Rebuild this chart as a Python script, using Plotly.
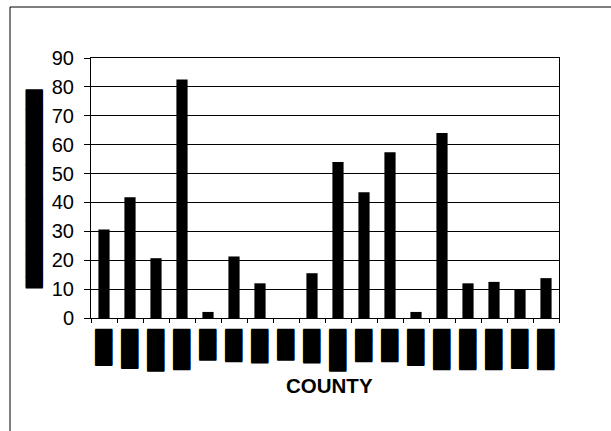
import plotly.graph_objects as go

# County codes (category keys) and measured values
counties = ["C01", "C02", "C03", "C04", "C05", "C06", "C07", "C08", "C09",
            "C10", "C11", "C12", "C13", "C14", "C15", "C16", "C17", "C18"]
values = [30.6, 41.8, 20.7, 82.6, 2.1, 21.3, 12.0, 0.0, 15.5,
          54.0, 43.5, 57.4, 2.1, 64.0, 12.0, 12.5, 9.7, 13.8]

# Redacted county names, shown as solid block glyphs
tick_labels = [
    "███▎", "███▌", "███▊", "███▋", "██▊", "██▉", "███", "██▊", "███",
    "███▊", "██▉", "██▉", "███▎", "███▋", "███▋", "███▋", "███▌", "███▋",
]
y_title = "█" * 17 + "▊"
x_title = "COUNTY"
y_ticks = [0, 10, 20, 30, 40, 50, 60, 70, 80, 90]

BLOCK_FONT = dict(family="DejaVu Sans", size=14.5, color="black",
                  shadow="1px 0px 0px #000")

fig = go.Figure(
    go.Bar(
        x=counties,
        y=values,
        marker=dict(color="#000000", line=dict(width=0)),
    )
)

fig.update_layout(
    width=611,
    height=431,
    margin=dict(l=91, r=52, t=58, b=113),
    paper_bgcolor="white",
    plot_bgcolor="white",
    bargap=0.57,
    showlegend=False,
    font=dict(family="Liberation Sans, Arial, sans-serif", color="black"),
    shapes=[
        # outer chart frame (extends past the page edge on right and bottom)
        dict(type="rect", xref="paper", yref="paper",
             x0=(10 - 91) / 468, x1=(700 - 91) / 468,
             y0=(318 - 500) / 260, y1=(318 - 7) / 260,
             line=dict(color="black", width=1), fillcolor="rgba(0,0,0,0)",
             layer="below"),
    ],
    annotations=[
        dict(text=x_title, xref="paper", yref="paper",
             x=(329.5 - 91) / 468, y=(318 - 385.5) / 260,
             xanchor="center", yanchor="middle", showarrow=False,
             font=dict(size=20.5, color="black",
                       family="Liberation Sans, Arial, sans-serif",
                       weight="bold")),
    ],
)

fig.update_xaxes(
    type="category",
    tickvals=counties,
    ticktext=tick_labels,
    tickangle=90,
    tickfont=BLOCK_FONT,
    ticks="outside",
    ticklen=4,
    tickcolor="black",
    tickson="boundaries",
    ticklabelstandoff=7,
    showline=True,
    linecolor="black",
    linewidth=1,
    mirror=True,
    showgrid=False,
)

fig.update_yaxes(
    range=[0, 90],
    tickvals=y_ticks,
    tickfont=dict(size=20, color="black"),
    ticks="outside",
    ticklen=6,
    tickcolor="black",
    ticklabelstandoff=6,
    showline=True,
    linecolor="black",
    linewidth=1,
    mirror=True,
    showgrid=True,
    gridcolor="black",
    gridwidth=1,
    zeroline=False,
    title=dict(text=y_title, font=BLOCK_FONT, standoff=8),
)

fig.write_html("out.html")
